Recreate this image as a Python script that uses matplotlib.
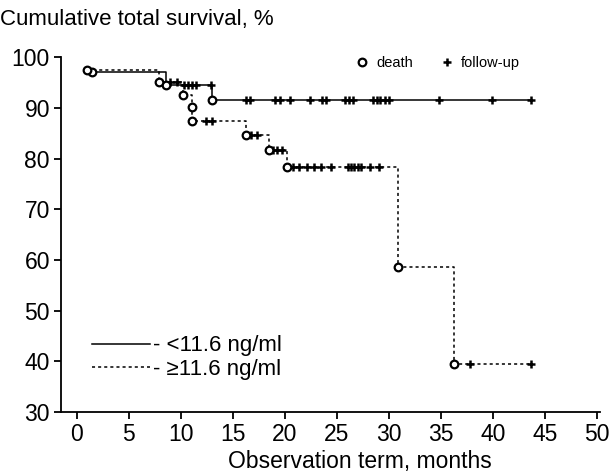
import numpy as np
import matplotlib
matplotlib.use("Agg")
import matplotlib.pyplot as plt
from matplotlib.lines import Line2D

plt.rcParams['font.family'] = ['Liberation Sans', 'DejaVu Sans']

# group < 11.6 ng/ml (solid)
low_t = [1.5, 8.6, 13.0, 43.7]
low_s = [97.2, 94.6, 91.6, 91.6]
low_death_t = [1.5, 8.6, 13.0]
low_cens_t = [10.3, 10.7, 11.1, 11.5, 12.95, 16.25, 16.7, 19.05, 19.5, 20.5,
              22.4, 23.55, 24.0, 25.8, 26.2, 26.6, 28.5, 28.9, 29.2, 29.6,
              30.0, 34.8, 39.9, 43.7]

# group >= 11.6 ng/ml (dashed)
high_t = [1.0, 7.9, 10.25, 11.1, 11.1, 16.3, 18.5, 20.2, 30.85, 36.3, 43.7]
high_s = [97.6, 95.2, 92.5, 90.2, 87.4, 84.7, 81.8, 78.3, 58.7, 39.5, 39.5]
high_death_t = [1.0, 7.9, 10.25, 11.1, 11.1, 16.3, 18.5, 20.2, 30.85, 36.3]
high_death_s = [97.6, 95.2, 92.5, 90.2, 87.4, 84.7, 81.8, 78.3, 58.7, 39.5]
high_cens_t = [9.0, 9.6, 12.4, 13.0, 16.8, 17.3, 18.9, 19.3, 19.7, 20.8,
               21.4, 22.1, 22.8, 23.5, 24.4, 26.1, 26.4, 26.7, 27.0, 27.3,
               28.2, 29.1, 37.8, 43.7]


def surv_at(times, surv, q):
    idx = np.searchsorted(times, q, side='right') - 1
    return np.asarray(surv)[idx]


fig = plt.figure(figsize=(6.12, 4.73), dpi=100)
ax = fig.add_axes([61 / 612, 61 / 473, 539 / 612, 354.5 / 473])

ax.step(low_t, low_s, where='post', color='black', lw=1.1)
ax.step(high_t, high_s, where='post', color='black', lw=1.1,
        linestyle=(0, (2, 2)))

mk = dict(marker='o', ms=5.5, mfc='white', mec='black', mew=1.6, ls='none')
ax.plot(low_death_t, low_s[:3], **mk, zorder=4)
ax.plot(high_death_t, high_death_s, **mk, zorder=4)

ck = dict(marker='+', ms=6, mec='black', mew=1.8, ls='none')
ax.plot(low_cens_t, surv_at(low_t, low_s, low_cens_t), **ck)
ax.plot(high_cens_t, surv_at(high_t, high_s, high_cens_t), **ck)

ax.set_xlim(-1.5, 50.3)
ax.set_ylim(30, 100)
ax.set_xticks(range(0, 51, 5))
ax.set_yticks(range(30, 101, 10))
for s in ['top', 'right']:
    ax.spines[s].set_visible(False)
for s in ['left', 'bottom']:
    ax.spines[s].set_linewidth(1.3)
ax.tick_params(direction='out', length=5, width=1.3, labelsize=16.5, pad=3)

ax.set_xlabel('Observation term, months', fontsize=16.5, labelpad=2.5)
ax.xaxis.label.set_x(0.555)
fig.text(0.0, 0.958, 'Cumulative total survival, %', fontsize=16,
         ha='left', va='center')

h1 = [Line2D([], [], **mk), Line2D([], [], **ck)]
leg1 = ax.legend(h1, ['death', 'follow-up'], loc='center right',
                 bbox_to_anchor=(0.852, 0.985), ncol=2, frameon=False,
                 fontsize=10.5, handlelength=0.8, handletextpad=0.6,
                 columnspacing=1.9, borderpad=0, borderaxespad=0)
ax.add_artist(leg1)

h2 = [Line2D([], [], color='black', lw=1.1),
      Line2D([], [], color='black', lw=1.1, linestyle=(0, (2, 2)))]
ax.legend(h2, ['- <11.6 ng/ml', '- \u226511.6 ng/ml'], loc='center left',
          bbox_to_anchor=(0.057, 0.154), frameon=False, fontsize=16,
          handlelength=2.6, handletextpad=0.15, labelspacing=0.1,
          borderpad=0, borderaxespad=0)

fig.savefig('out.png', dpi=100)
